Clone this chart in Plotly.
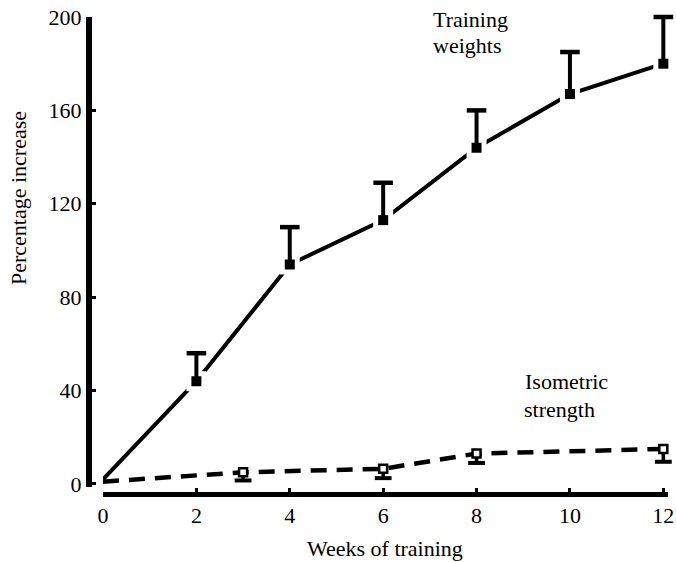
import plotly.graph_objects as go

# Training weights (solid line, filled squares, upward error bars)
train_weeks = [0, 2, 4, 6, 8, 10, 12]
train_vals = [2, 44, 94, 113, 144, 167, 180]
train_mark_weeks = [2, 4, 6, 8, 10, 12]
train_mark_vals = [44, 94, 113, 144, 167, 180]
train_err_up = [12, 16, 16, 16, 18, 20]

# Isometric strength (dashed line, open squares, downward error bars)
iso_weeks = [0, 3, 6, 8, 12]
iso_vals = [1, 5, 6.5, 13, 15]
iso_mark_weeks = [3, 6, 8, 12]
iso_mark_vals = [5, 6.5, 13, 15]
iso_err_down = [3.5, 4, 4, 5.5]

x_ticks = [0, 2, 4, 6, 8, 10, 12]
y_ticks = [0, 40, 80, 120, 160, 200]

W, H = 676, 562
FONT = "Liberation Serif"


def stems(xs, ys, ends):
    sx, sy = [], []
    for x, y, e in zip(xs, ys, ends):
        sx += [x, x, None]
        sy += [y, e, None]
    return sx, sy


train_tops = [v + e for v, e in zip(train_mark_vals, train_err_up)]
iso_bottoms = [v - e for v, e in zip(iso_mark_vals, iso_err_down)]

fig = go.Figure()

# solid line
fig.add_trace(go.Scatter(x=train_weeks, y=train_vals, mode="lines",
                         line=dict(color="black", width=4), cliponaxis=False,
                         hoverinfo="skip", showlegend=False))
# white halo to give gaps around the markers
fig.add_trace(go.Scatter(x=train_mark_weeks, y=train_mark_vals, mode="markers",
                         marker=dict(symbol="square", size=20, color="white"),
                         cliponaxis=False, hoverinfo="skip", showlegend=False))
# error stems (up)
sx, sy = stems(train_mark_weeks, train_mark_vals, train_tops)
fig.add_trace(go.Scatter(x=sx, y=sy, mode="lines", line=dict(color="black", width=4),
                         cliponaxis=False, hoverinfo="skip", showlegend=False))
# caps
fig.add_trace(go.Scatter(x=train_mark_weeks, y=train_tops, mode="markers",
                         marker=dict(symbol="line-ew", size=14,
                                     line=dict(color="black", width=4.5)),
                         cliponaxis=False, hoverinfo="skip", showlegend=False))
# filled markers
fig.add_trace(go.Scatter(x=train_mark_weeks, y=train_mark_vals, mode="markers",
                         marker=dict(symbol="square", size=10, color="black"),
                         cliponaxis=False, showlegend=False))

# dashed line
fig.add_trace(go.Scatter(x=iso_weeks, y=iso_vals, mode="lines",
                         line=dict(color="black", width=4.5, dash="16px,10px"),
                         cliponaxis=False, hoverinfo="skip", showlegend=False))
sx, sy = stems(iso_mark_weeks, iso_mark_vals, iso_bottoms)
fig.add_trace(go.Scatter(x=sx, y=sy, mode="lines", line=dict(color="black", width=3.5),
                         cliponaxis=False, hoverinfo="skip", showlegend=False))
fig.add_trace(go.Scatter(x=iso_mark_weeks, y=iso_bottoms, mode="markers",
                         marker=dict(symbol="line-ew", size=12,
                                     line=dict(color="black", width=4)),
                         cliponaxis=False, hoverinfo="skip", showlegend=False))
fig.add_trace(go.Scatter(x=iso_mark_weeks, y=iso_mark_vals, mode="markers",
                         marker=dict(symbol="square", size=8, color="white",
                                     line=dict(color="black", width=2.5)),
                         cliponaxis=False, showlegend=False))


def px(x):
    return x / W


def py(y):
    return 1 - y / H


fig.update_layout(
    width=W, height=H,
    margin=dict(l=0, r=0, t=0, b=0, autoexpand=False),
    paper_bgcolor="white", plot_bgcolor="white",
    font=dict(family=FONT, color="black", size=22),
    xaxis=dict(range=[0, 12.1], domain=[px(103), px(668)], anchor="free",
               position=py(494), showgrid=False, zeroline=False, automargin=False,
               showline=True, linecolor="black", linewidth=5,
               tickmode="array", tickvals=x_ticks, ticktext=[str(v) for v in x_ticks],
               ticks="inside", ticklen=4, tickwidth=3, tickcolor="black",
               ticklabeloverflow="allow",
               tickfont=dict(family=FONT, size=22, color="black")),
    yaxis=dict(range=[-1.3, 200], domain=[py(487), py(17)], anchor="free",
               position=px(89), showgrid=False, zeroline=False, automargin=False,
               showline=True, linecolor="black", linewidth=6,
               tickmode="array", tickvals=y_ticks, ticktext=[str(v) for v in y_ticks],
               ticks="inside", ticklen=4, tickwidth=3, tickcolor="black",
               tickfont=dict(family=FONT, size=22, color="black")),
)

annos = [
    dict(text="Percentage increase", x=px(18), y=py(198), textangle=-90,
         xanchor="center", yanchor="middle"),
    dict(text="Weeks of training", x=px(385), y=py(548),
         xanchor="center", yanchor="middle"),
    dict(text="Training", x=px(431), y=py(19), xanchor="left", yanchor="middle"),
    dict(text="weights", x=px(431), y=py(46), xanchor="left", yanchor="middle"),
    dict(text="Isometric", x=px(523), y=py(381), xanchor="left", yanchor="middle"),
    dict(text="strength", x=px(522), y=py(409), xanchor="left", yanchor="middle"),
]
for a in annos:
    fig.add_annotation(xref="paper", yref="paper", showarrow=False,
                       font=dict(family=FONT, size=22, color="black"), **a)

fig.write_html("out.html")
